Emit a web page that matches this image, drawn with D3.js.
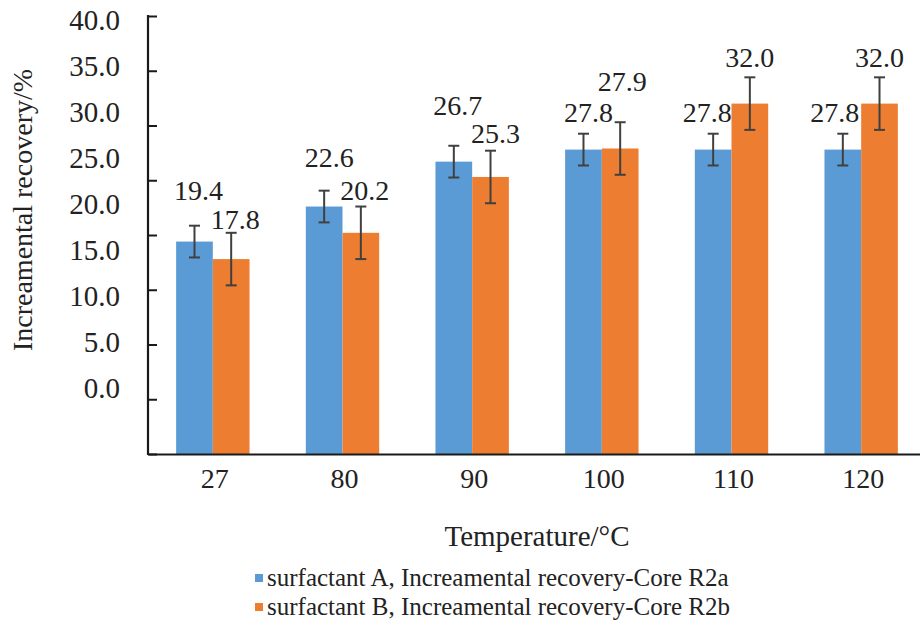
<!DOCTYPE html>
<html><head><meta charset="utf-8">
<script src="https://cdn.jsdelivr.net/npm/d3@7/dist/d3.min.js"></script>
<style>body{margin:0;background:#fff}svg{display:block}svg text{font-family:"Liberation Serif","Times New Roman",Times,serif}</style>
</head><body>
<svg id="c" width="920" height="637"></svg>
<script>
const categories = ["27","80","90","100","110","120"];
const seriesNames = ["surfactant A, Increamental recovery-Core R2a","surfactant B, Increamental recovery-Core R2b"];
const valuesA = [19.4,22.6,26.7,27.8,27.8,27.8];
const valuesB = [17.8,20.2,25.3,27.9,32.0,32.0];
const errA = [1.45,1.45,1.45,1.45,1.45,1.45];
const errB = [2.4,2.4,2.4,2.4,2.4,2.4];
const yTickLabels = [0,5,10,15,20,25,30,35,40];
const colors = ["#5B9BD5","#ED7D31"];
// layout nudges for the value labels (dx, dy above bar top)
const labelDx = [[4,5,4,5,-6,-8],[4,4,5,2,0,0]];
const labelDy = [[42,40,47,28,28,28],[30,33,34,57,37,37]];

const svg = d3.select("#c");
const x0 = d3.scaleBand().domain(categories).range([148,926]).padding(0);
const x1 = d3.scaleBand().domain([0,1]).range([0,x0.bandwidth()]).paddingInner(0).paddingOuter(0.767);
const y = d3.scaleLinear().domain([0,40]).range([454,16]);
const yLab = d3.scaleLinear().domain([0,40]).range([398,30]);

const series = [valuesA, valuesB];
const errs = [errA, errB];

series.forEach((vals,s)=>{
  svg.append("g").selectAll("rect").data(vals).join("rect")
    .attr("x",(d,i)=>x0(categories[i])+x1(s))
    .attr("y",d=>y(d))
    .attr("width",x1.bandwidth())
    .attr("height",d=>y(0)-y(d))
    .attr("fill",colors[s]);
});
series.forEach((vals,s)=>{
  const g = svg.append("g").attr("stroke","#404040").attr("stroke-width",2);
  vals.forEach((d,i)=>{
    const cx = x0(categories[i])+x1(s)+x1.bandwidth()/2;
    const e = errs[s][i];
    g.append("line").attr("x1",cx).attr("x2",cx).attr("y1",y(d+e)).attr("y2",y(d-e));
    g.append("line").attr("x1",cx-5.5).attr("x2",cx+5.5).attr("y1",y(d+e)).attr("y2",y(d+e));
    g.append("line").attr("x1",cx-5.5).attr("x2",cx+5.5).attr("y1",y(d-e)).attr("y2",y(d-e));
  });
});
series.forEach((vals,s)=>{
  svg.append("g").selectAll("text").data(vals).join("text")
    .attr("x",(d,i)=>x0(categories[i])+x1(s)+x1.bandwidth()/2+labelDx[s][i])
    .attr("y",(d,i)=>y(d)-labelDy[s][i])
    .attr("text-anchor","middle")
    .attr("font-size",28).attr("fill","#222")
    .text(d=>d.toFixed(1));
});

const yAxis = d3.axisRight(y).tickValues(yTickLabels).tickSize(9).tickFormat("");
const ga = svg.append("g").attr("transform","translate(148,0)").call(yAxis);
ga.select(".domain").remove();
ga.selectAll("line").attr("stroke","#1a1a1a").attr("stroke-width",2);
svg.append("line").attr("x1",148).attr("x2",148).attr("y1",y(40)-1).attr("y2",y(0)+1).attr("stroke","#1a1a1a").attr("stroke-width",2.2);
svg.append("g").selectAll("text").data(yTickLabels).join("text")
  .attr("x",120).attr("y",d=>yLab(d))
  .attr("text-anchor","end").attr("font-size",29).attr("fill","#222")
  .text(d=>d.toFixed(1));

const xAxis = d3.axisBottom(x0).tickSize(0).tickPadding(0);
const gx = svg.append("g").attr("transform",`translate(0,${y(0)})`).call(xAxis);
gx.attr("font-family",null);
gx.select(".domain").attr("stroke","#1a1a1a").attr("stroke-width",2.2);
gx.selectAll("text").attr("font-size",28).attr("fill","#222")
  .attr("dy",0).attr("y",34).attr("dx",2);

svg.append("text").attr("transform","translate(32,210) rotate(-90)")
  .attr("text-anchor","middle").attr("font-size",28).attr("fill","#222")
  .text("Increamental recovery/%");
svg.append("text").attr("x",537).attr("y",546).attr("text-anchor","middle")
  .attr("font-size",29).attr("fill","#222").text("Temperature/°C");

const lg = svg.append("g");
seriesNames.forEach((n,s)=>{
  const yy = 578 + s*29;
  lg.append("rect").attr("x",255).attr("y",yy-4).attr("width",8).attr("height",8).attr("fill",colors[s]);
  lg.append("text").attr("x",267).attr("y",yy+8).attr("font-size",25).attr("fill","#222").text(n);
});
</script>
</body></html>
